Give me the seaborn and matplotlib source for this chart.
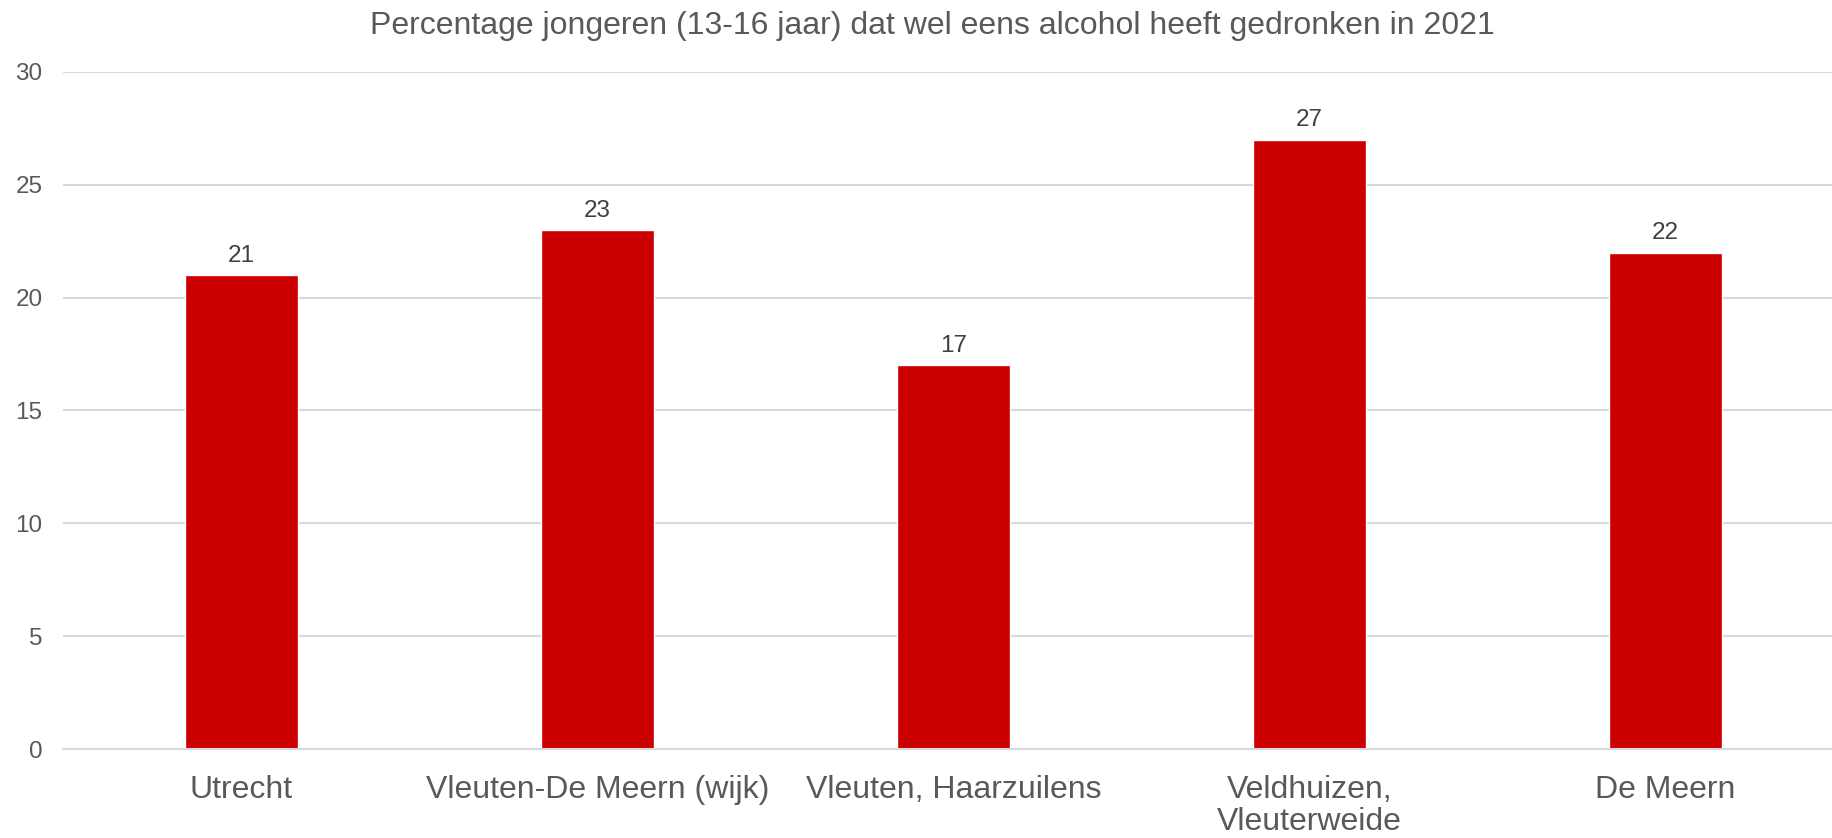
import pandas as pd
import matplotlib.pyplot as plt
import seaborn as sns

# data
wijken = ["Utrecht", "Vleuten-De Meern (wijk)", "Vleuten, Haarzuilens",
          "Veldhuizen,\nVleuterweide", "De Meern"]
percentage = [21, 23, 17, 27, 22]
y_ticks = [0, 5, 10, 15, 20, 25, 30]

df = pd.DataFrame({"wijk": wijken, "pct": percentage})

sns.set_style("white")
plt.rcParams['font.family'] = ['Liberation Sans', 'DejaVu Sans']

fig = plt.figure(figsize=(18.32, 8.38), dpi=100)
ax = fig.add_axes([0.0346, 0.1062, 0.9716, 0.8079])

sns.barplot(data=df, x="wijk", y="pct", color="#CC0000", width=0.316,
            saturation=1, ax=ax)

# value labels above bars
for i, v in enumerate(percentage):
    ax.annotate(str(v), (i, v), xytext=(0, 6), textcoords="offset points",
                ha="center", va="bottom", fontsize=17.5, color="#404040")

ax.set_ylim(0, 30)
ax.set_xlim(-0.5, len(wijken) - 0.5)
ax.set_yticks(y_ticks)
ax.yaxis.grid(True, color="#D9D9D9", linewidth=1.5)
ax.set_axisbelow(True)
for s in ["top", "right", "left"]:
    ax.spines[s].set_visible(False)
ax.spines["bottom"].set_color("#D9D9D9")
ax.spines["bottom"].set_linewidth(1.5)

ax.tick_params(axis="y", length=0, pad=15, labelsize=17.5, labelcolor="#595959")
ax.tick_params(axis="x", length=0, pad=19, labelsize=23, labelcolor="#595959")
for lbl in ax.get_xticklabels():
    lbl.set_linespacing(1.05)
ax.set_xlabel("")
ax.set_ylabel("")

fig.text(0.509, 0.96, "Percentage jongeren (13-16 jaar) dat wel eens alcohol heeft gedronken in 2021",
         ha="center", va="baseline", fontsize=23, color="#595959")

plt.savefig("out.png", dpi=100)
